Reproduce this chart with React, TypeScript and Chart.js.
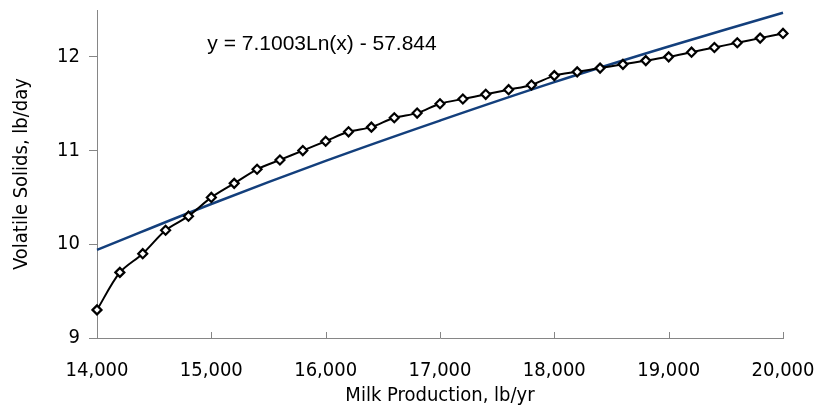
import { useEffect, useRef } from "react";
import { Chart, registerables } from "chart.js";

Chart.register(...registerables);

const milkProduction = [
  14000, 14200, 14400, 14600, 14800, 15000, 15200, 15400, 15600, 15800,
  16000, 16200, 16400, 16600, 16800, 17000, 17200, 17400, 17600, 17800,
  18000, 18200, 18400, 18600, 18800, 19000, 19200, 19400, 19600, 19800, 20000,
];
const volatileSolids = [
  9.3, 9.7, 9.9, 10.15, 10.3, 10.5, 10.65, 10.8, 10.9, 11.0,
  11.1, 11.2, 11.25, 11.35, 11.4, 11.5, 11.55, 11.6, 11.65, 11.7,
  11.8, 11.84, 11.88, 11.92, 11.96, 12.0, 12.05, 12.1, 12.15, 12.2, 12.25,
];
const trendMilk = [14000, 15000, 16000, 17000, 18000, 19000, 20000];
const trendSolids = [9.94, 10.43, 10.89, 11.32, 11.73, 12.11, 12.47];

const equationText = "y = 7.1003Ln(x) - 57.844";
const equationAt = { x: 14965, y: 12.13 };

const xTitle = "Milk Production, lb/yr";
const yTitle = "Volatile Solids, lb/day";

const AXIS_FONT = '"DejaVu Sans Condensed", "DejaVu Sans", sans-serif';
const AXIS_GRAY = "#868686";

const extrasPlugin = {
  id: "extras",
  afterDraw(chart: any) {
    const { ctx, scales } = chart;
    const xs = scales.x;
    const ys = scales.y;
    ctx.save();
    ctx.strokeStyle = AXIS_GRAY;
    ctx.lineWidth = 1;
    const bottom = chart.chartArea.bottom;
    xs.ticks.forEach((t: any) => {
      const px = Math.round(xs.getPixelForValue(t.value)) + 0.5;
      ctx.beginPath();
      ctx.moveTo(px, bottom);
      ctx.lineTo(px, bottom - 6);
      ctx.stroke();
    });
    ctx.fillStyle = "#000";
    ctx.font = '21px "Liberation Sans", Arial, sans-serif';
    ctx.textAlign = "left";
    ctx.textBaseline = "middle";
    ctx.fillText(
      equationText,
      xs.getPixelForValue(equationAt.x),
      ys.getPixelForValue(equationAt.y)
    );
    ctx.restore();
  },
};

export default function App() {
  const ref = useRef<HTMLCanvasElement | null>(null);

  useEffect(() => {
    if (!ref.current) return;
    const chart = new Chart(ref.current, {
      type: "line",
      data: {
        datasets: [
          {
            label: "Volatile Solids",
            data: milkProduction.map((m, i) => ({ x: m, y: volatileSolids[i] })),
            borderColor: "#000",
            borderWidth: 2,
            pointStyle: "rectRot",
            pointRadius: 4.5,
            pointBorderWidth: 2.2,
            pointBackgroundColor: "#fff",
            pointBorderColor: "#000",
            tension: 0.3,
            fill: false,
            clip: false,
          },
          {
            label: "Trend",
            data: trendMilk.map((m, i) => ({ x: m, y: trendSolids[i] })),
            borderColor: "#133F7C",
            borderWidth: 2.5,
            pointRadius: 0,
            tension: 0.4,
            fill: false,
            clip: false,
          },
        ],
      },
      options: {
        responsive: false,
        maintainAspectRatio: false,
        animation: false,
        layout: { padding: { top: 10, right: 35, left: 0, bottom: 0 } },
        plugins: {
          legend: { display: false },
          tooltip: { enabled: false },
          title: { display: false },
        },
        scales: {
          x: {
            type: "linear",
            min: 14000,
            max: 20000,
            ticks: {
              stepSize: 1000,
              color: "#000",
              font: { family: AXIS_FONT, size: 20 },
              padding: 13,
              maxRotation: 0,
              autoSkip: false,
            },
            grid: { display: false },
            border: { display: true, color: AXIS_GRAY, width: 1 },
            title: {
              display: true,
              text: xTitle,
              color: "#000",
              font: { family: AXIS_FONT, size: 20 },
              padding: { top: 0, bottom: 12 },
            },
            afterFit(s: any) {
              s.height = 82;
              s.paddingLeft = 0;
              s.paddingRight = 0;
            },
          },
          y: {
            type: "linear",
            min: 9,
            max: 12.5,
            ticks: {
              stepSize: 1,
              includeBounds: false,
              color: "#000",
              font: { family: AXIS_FONT, size: 20 },
              padding: 9,
            },
            grid: {
              display: true,
              drawOnChartArea: false,
              drawTicks: true,
              tickLength: 8,
              color: AXIS_GRAY,
            },
            border: { display: true, color: AXIS_GRAY, width: 1 },
            title: {
              display: true,
              text: yTitle,
              color: "#000",
              font: { family: AXIS_FONT, size: 20 },
              padding: { top: 10, bottom: 0 },
            },
            afterFit(s: any) {
              s.width = 97;
              s.paddingTop = 0;
              s.paddingBottom = 0;
            },
          },
        },
      },
      plugins: [extrasPlugin],
    });
    return () => chart.destroy();
  }, []);

  return (
    <div style={{ position: "absolute", left: 0, top: 0, width: 818, height: 420, background: "#fff" }}>
      <canvas ref={ref} width={818} height={420} style={{ display: "block" }} />
    </div>
  );
}
